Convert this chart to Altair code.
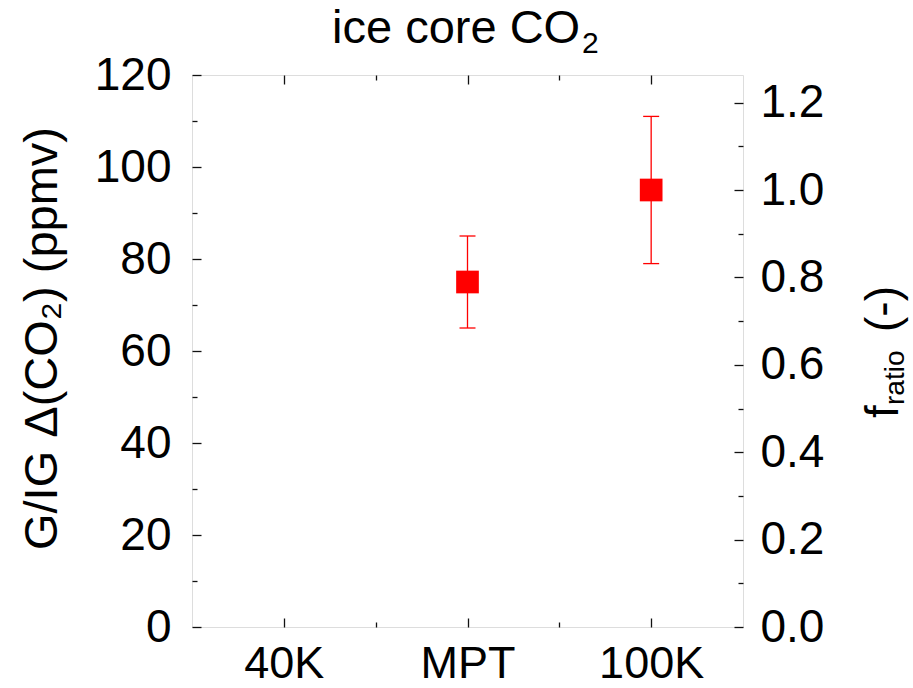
import json
import altair as alt
import pandas as pd

# Glacial/interglacial CO2 amplitude per period (ppmv), with error range
categories = ["40K", "MPT", "100K"]
dco2 = [None, 75, 95]
dco2_low = [None, 65, 79]
dco2_high = [None, 85, 111]

# Left axis (ppmv) and right axis (ratio to the 100K amplitude)
ppmv_ticks = [0, 20, 40, 60, 80, 100, 120]
ppmv_minor = list(range(0, 121, 10))
ratio_ticks = [0.0, 0.2, 0.4, 0.6, 0.8, 1.0, 1.2]
ratio_minor = [round(i * 0.1, 1) for i in range(13)]

ref = dco2[categories.index("100K")]
rows = []
for i, c in enumerate(categories):
    if dco2[i] is None:
        continue
    rows.append({"period": c, "pos": i + 1, "dco2": dco2[i],
                 "low": dco2_low[i], "high": dco2_high[i], "f": dco2[i] / ref})
df = pd.DataFrame(rows)

W, H = 551, 552
FONT = "Liberation Sans"
RED = "#ff0000"
INK = "#111111"

xscale = alt.Scale(domain=[0.5, len(categories) + 0.5], nice=False, zero=False)
yscale = alt.Scale(domain=[0, 120], nice=False, zero=False)
fscale = alt.Scale(domain=[0, 120 / ref], nice=False, zero=False)

x_positions = [1, 1.5, 2, 2.5, 3]


def tick_axis(orient, values, major_test):
    # inward-pointing ticks: an axis on the opposite side moved across the plot
    return alt.Axis(
        orient=orient,
        offset=-(H if orient in ("top", "bottom") else W),
        values=values,
        labels=False,
        domain=False,
        grid=False,
        title=None,
        ticks=True,
        tickWidth=1.3,
        tickColor=INK,
        tickSize={"condition": {"test": major_test, "value": 9}, "value": 5},
    )


x_label_axis = alt.Axis(
    orient="bottom", values=[1, 2, 3],
    labelExpr=f"{json.dumps(categories)}[datum.value - 1]",
    ticks=False, tickSize=0, domain=False, grid=False, title=None,
    labelFontSize=45, labelPadding=14, labelFont=FONT, labelColor="black",
)
y_label_axis = alt.Axis(
    orient="left", values=ppmv_ticks, format="d",
    ticks=False, tickSize=0, domain=False, grid=False,
    labelFontSize=46, labelPadding=21, labelFont=FONT, labelColor="black",
    title="G/IG \u0394(CO\u2082) (ppmv)", titleFontSize=47, titleFont=FONT,
    titleFontWeight="normal", titleColor="black", titleAngle=270,
    titleAlign="center", titleBaseline="alphabetic", titleX=-136, titleY=263,
)
f_label_axis = alt.Axis(
    orient="right", values=ratio_ticks, format=".1f",
    ticks=False, tickSize=0, domain=False, grid=False, title=None,
    labelFontSize=46, labelPadding=17, labelFont=FONT, labelColor="black",
)

bars = alt.Chart(df).mark_rule(color=RED, strokeWidth=1.3).encode(
    x=alt.X("pos:Q", scale=xscale,
            axis=tick_axis("top", x_positions, "datum.value % 1 === 0")),
    y=alt.Y("low:Q", scale=yscale,
            axis=tick_axis("right", ppmv_minor, "datum.value % 20 === 0")),
    y2="high:Q",
)
caps_low = alt.Chart(df).mark_tick(
    orient="horizontal", size=16, thickness=1.3, color=RED, opacity=1
).encode(
    x=alt.X("pos:Q", scale=xscale,
            axis=tick_axis("bottom", x_positions, "datum.value % 1 === 0")),
    y=alt.Y("low:Q", scale=yscale, axis=None),
)
caps_high = alt.Chart(df).mark_tick(
    orient="horizontal", size=16, thickness=1.3, color=RED, opacity=1
).encode(
    x=alt.X("pos:Q", scale=xscale, axis=None),
    y=alt.Y("high:Q", scale=yscale, axis=None),
)
squares = alt.Chart(df).mark_square(size=515, color=RED, opacity=1, strokeWidth=0).encode(
    x=alt.X("pos:Q", scale=xscale, axis=x_label_axis),
    y=alt.Y("dco2:Q", scale=yscale, axis=y_label_axis),
)
ratio_labels = alt.Chart(df).mark_point(opacity=0).encode(
    x=alt.X("pos:Q", scale=xscale, axis=None),
    y=alt.Y("f:Q", scale=fscale, axis=f_label_axis),
)
ratio_ticks_layer = alt.Chart(df).mark_point(opacity=0).encode(
    x=alt.X("pos:Q", scale=xscale, axis=None),
    y=alt.Y("f:Q", scale=fscale,
            axis=tick_axis("left", ratio_minor,
                           "round(datum.value * 10) % 2 === 0")),
)

one = pd.DataFrame({"k": [0]})


def text_piece(s, size, x, y, angle=0, align="left"):
    return alt.Chart(one).mark_text(
        text=s, angle=angle, fontSize=size, font=FONT, align=align,
        baseline="alphabetic", color="black"
    ).encode(x=alt.value(x), y=alt.value(y))


# chart title with a real subscript
title_main = text_piece("ice core CO", 47, 140, -32)
title_sub = text_piece("2", 30, 390, -22)

# right-hand axis title: f with a subscripted "ratio", then (-)
t_f = text_piece("f", 46, 706, 343, angle=270)
t_ratio = text_piece("ratio", 28, 712, 330, angle=270)
t_unit = text_piece("(-)", 46, 706, 257, angle=270)

chart = alt.layer(
    bars, caps_low, caps_high, squares, ratio_labels, ratio_ticks_layer,
    title_main, title_sub, t_f, t_ratio, t_unit,
).resolve_scale(
    y="independent"
).resolve_axis(
    x="independent", y="independent"
).properties(
    width=W, height=H,
    autosize=alt.AutoSizeParams(type="none"),
    padding={"left": 192, "top": 75, "right": 913 - 192 - W, "bottom": 688 - 75 - H},
).configure_view(
    stroke=INK, strokeWidth=1.5
).configure(background="white")

chart.save("out.html", embed_options={"renderer": "svg", "actions": False})
